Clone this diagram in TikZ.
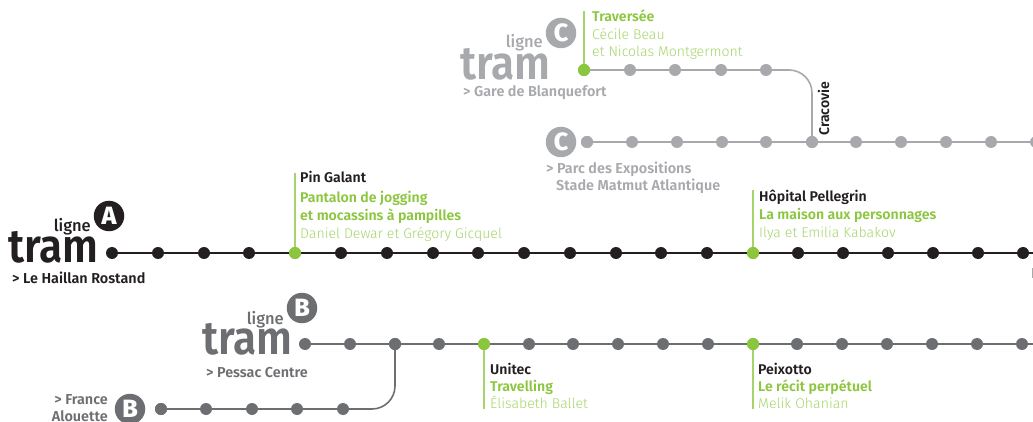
\documentclass[tikz,border=0pt]{standalone}
\usepackage{fontspec}
\setmainfont{Fira Sans}
\newfontfamily\lightf{Fira Sans Light}
\newfontfamily\medf{Fira Sans Medium}
\newfontfamily\semif{Fira Sans SemiBold}
\newfontfamily\heavyf{Fira Sans ExtraBold}
\definecolor{lineA}{HTML}{231F20}
\definecolor{lineB}{HTML}{6D6E71}
\definecolor{lineC}{HTML}{A7A9AC}
\definecolor{artgreen}{HTML}{8CC63F}
\definecolor{stemgreen}{HTML}{A6D46A}
\newcommand{\tramword}{\scalebox{.9}[1]{tram}}
\tikzset{
  x=1pt,y=-1pt,
  stopA/.style={circle,fill=lineA,inner sep=0pt,minimum size=12pt},
  stopB/.style={circle,fill=lineB,inner sep=0pt,minimum size=12pt},
  stopC/.style={circle,fill=lineC,inner sep=0pt,minimum size=12pt},
  stopG/.style={circle,fill=artgreen,inner sep=0pt,minimum size=12pt},
  railA/.style={draw=lineA,line width=1.6pt},
  railB/.style={draw=lineB,line width=1.6pt},
  railC/.style={draw=lineC,line width=1.6pt},
  stem/.style={draw=stemgreen,line width=1.3pt},
  txt/.style={anchor=base west,inner sep=0pt,font=\semif\fontsize{14.1}{14.1}\selectfont},
  stationlab/.style={txt,text=lineA},
  worklab/.style={txt,text=artgreen},
  artistlab/.style={txt,text=stemgreen,font=\lightf\fontsize{14.1}{14.1}\selectfont},
  tramlab/.style={anchor=base west,inner sep=0pt,font=\semif\fontsize{47}{47}\selectfont},
  lignelab/.style={anchor=base east,inner sep=0pt,font=\medf\fontsize{16.5}{16.5}\selectfont},
  dest/.style={anchor=base west,inner sep=0pt,font=\semif\fontsize{14.4}{14.4}\selectfont},
  badge/.style={circle,inner sep=0pt,minimum size=30.5pt,text=white,font=\heavyf\fontsize{25}{25}\selectfont},
}
\begin{document}
\begin{tikzpicture}
\useasboundingbox (0,0) rectangle (1033,422);
\clip (0,0) rectangle (1033,422);
% Line C
\node[stopG] (ct0) at (584,70) {};
\coordinate (ct4) at (766,70);
\node[stopC] (cb0) at (587,142) {};
\node[stopC] (cb5) at (812,142) {};
\coordinate (cbend) at (1040,142);
\draw[railC] (cb0.center) -- (cbend);
\draw[railC] (ct0.center) -- (ct4) -- (789,70) arc[start angle=-90,end angle=0,radius=23] -- (cb5.center);
\draw[stem] (ct0.center) -- (584,11);
\foreach \x in {630,675,721,766}{\node[stopC] at (\x,70) {};}
\node[stopG] at (584,70) {};
\foreach \x in {587,632,677,722,766,812,856,901,946,991,1036}{\node[stopC] at (\x,142) {};}
\node[worklab] (t1) at (592,22) {Traversée};
\node[artistlab] (t2) at (592,40) {Cécile Beau};
\node[artistlab] (t3) at (592,57) {et Nicolas Montgermont};
\node[badge,fill=lineC] (bc1) at (561,33) {C};
\node[lignelab,text=lineC] (lc) at (543,48) {ligne};
\node[tramlab,text=lineC] (tc) at (460,80) {\tramword};
\node[dest,text=lineC] (dc) at (463,97) {> Gare de Blanquefort};
\node[badge,fill=lineC] (bc2) at (561,142) {C};
\node[dest,text=lineC] (dc2) at (546,174) {> Parc des Expositions};
\node[dest,text=lineC] (dc3) at (556,191) {Stade Matmut Atlantique};
\node[txt,text=lineA,rotate=90] (cra) at (829,136) {Cracovie};
% Line A
\node[stopA] (a0) at (112,253) {};
\coordinate (aend) at (1040,253);
\draw[railA] (a0.center) -- (aend);
\foreach \x in {158,204,249,341,387,433,478,524,570,616,661,707,798,843,888,933,978,1023}{\node[stopA] at (\x,253) {};}
\node[stopG] (a4) at (295,253) {};
\node[stopG] (a14) at (753,253) {};
\draw[stem] (a4.center) -- (295,173);
\draw[stem] (a14.center) -- (753,190);
\node[stopG] at (295,253) {};
\node[stopG] at (753,253) {};
\node[stationlab] at (300,183) {Pin Galant};
\node[worklab] at (300,203) {Pantalon de jogging};
\node[worklab] at (300,221) {et mocassins à pampilles};
\node[artistlab] at (300,238) {Daniel Dewar et Grégory Gicquel};
\node[stationlab] at (759,201) {Hôpital Pellegrin};
\node[worklab] at (759,219) {La maison aux personnages};
\node[artistlab] at (759,237) {Ilya et Emilia Kabakov};
\node[badge,fill=lineA] (ba) at (109,216) {A};
\node[lignelab,text=lineA] (la) at (91,231) {ligne};
\node[tramlab,text=lineA] (ta) at (8,262) {\tramword};
\node[dest,text=lineA] (da) at (12,283) {> Le Haillan Rostand};
\fill[lineC] (1032,268) rectangle (1033,278);
% Line B
\node[stopB] (b0) at (305,344) {};
\coordinate (bend) at (1040,344);
\draw[railB] (b0.center) -- (bend);
\node[stopB] (l0) at (161,409) {};
\node[stopB] (bj) at (395,344) {};
\draw[railB] (l0.center) -- (372,409) arc[start angle=90,end angle=0,radius=23] -- (bj.center);
\foreach \x in {350,395,439,529,573,618,663,708,797,842,887,932,977,1022}{\node[stopB] at (\x,344) {};}
\foreach \x in {206,252,297,343}{\node[stopB] at (\x,409) {};}
\node[stopB] at (161,409) {};
\node[stopG] (b4) at (484,344) {};
\node[stopG] (b9) at (753,344) {};
\draw[stem] (b4.center) -- (484,409);
\draw[stem] (b9.center) -- (753,409);
\node[stopG] at (484,344) {};
\node[stopG] at (753,344) {};
\node[stationlab] at (490,374) {Unitec};
\node[worklab] at (490,391) {Travelling};
\node[artistlab] at (490,408) {Élisabeth Ballet};
\node[stationlab] at (758,374) {Peixotto};
\node[worklab] at (758,391) {Le récit perpétuel};
\node[artistlab] at (758,408) {Melik Ohanian};
\node[badge,fill=lineB] (bb) at (302,308) {B};
\node[lignelab,text=lineB] (lb) at (284,324) {ligne};
\node[tramlab,text=lineB] (tb) at (202,354) {\tramword};
\node[dest,text=lineB] (db) at (206,377) {> Pessac Centre};
\node[badge,fill=lineB] (bb2) at (130,409) {B};
\node[dest,anchor=base east,text=lineB] (db2) at (108,404) {> France};
\node[dest,anchor=base east,text=lineB] (db3) at (108,421) {Alouette};
\end{tikzpicture}
\end{document}
